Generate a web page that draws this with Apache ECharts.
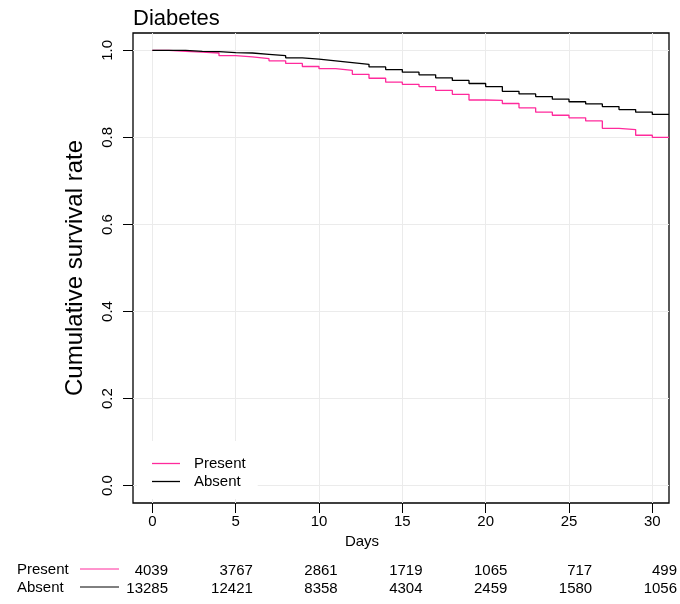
<!DOCTYPE html>
<html>
<head>
<meta charset="utf-8">
<script src="https://cdn.jsdelivr.net/npm/echarts@6/dist/echarts.min.js"></script>
<style>
    html, body {margin: 0; padding: 0; background: #fff;}
    #main {width: 680px; height: 604px;}
</style>
</head>
<body>
<div id="main"></div>
<script>
// KM step values read per day (value after the drop on that day)
const groups = ['Present', 'Absent'];
const days = [0, 1, 2, 3, 4, 5, 6, 7, 8, 9, 10, 11, 12, 13, 14, 15, 16, 17, 18, 19, 20, 21, 22, 23, 24, 25, 26, 27, 28, 29, 30, 31];
const presentSurv = [1.0, 0.998, 0.996, 0.994, 0.988, 0.985, 0.981, 0.976, 0.970, 0.963, 0.958, 0.954, 0.945, 0.936, 0.927, 0.922,
    0.917, 0.908, 0.899, 0.886, 0.885, 0.878, 0.868, 0.858, 0.851, 0.845, 0.838, 0.821, 0.818, 0.805, 0.800, 0.800];
const absentSurv = [1.0, 1.0, 0.998, 0.997, 0.995, 0.994, 0.991, 0.988, 0.983, 0.980, 0.976, 0.972, 0.968, 0.962, 0.956, 0.950,
    0.944, 0.937, 0.931, 0.924, 0.917, 0.906, 0.900, 0.894, 0.888, 0.882, 0.877, 0.871, 0.864, 0.858, 0.853, 0.853];

const dayTicks = [0, 5, 10, 15, 20, 25, 30];
const rateTicks = [0, 0.2, 0.4, 0.6, 0.8, 1.0];
const presentRisk = [4039, 3767, 2861, 1719, 1065, 717, 499];
const absentRisk = [13285, 12421, 8358, 4304, 2459, 1580, 1056];

const colors = ['#ff2a9c', '#000000'];
const font = "'Liberation Sans', Arial, sans-serif";

let chart = echarts.init(document.getElementById('main'));

let riskAxis = (risk, offset) => ({
    type: 'value',
    gridIndex: 1,
    min: 0,
    max: 30,
    interval: 5,
    position: 'bottom',
    offset: offset,
    axisLine: {show: false, onZero: false},
    axisTick: {show: false},
    splitLine: {show: false},
    axisLabel: {
        align: 'right',
        margin: 7,
        fontSize: 15,
        fontFamily: font,
        color: '#000',
        showMinLabel: true,
        showMaxLabel: true,
        formatter: v => risk[dayTicks.indexOf(v)]
    }
});

let graphic = [];
groups.forEach((g, i) => {
    let y = 569 + i * 18;
    graphic.push({
        type: 'text', left: 17, top: y - 7,
        style: {text: g, fontSize: 15, fontFamily: font, fill: '#000'}
    });
    graphic.push({
        type: 'line',
        shape: {x1: 80, y1: y, x2: 119, y2: y},
        style: {stroke: colors[i], lineWidth: 1}
    });
});

let option = {
    animation: false,
    backgroundColor: '#fff',
    title: {
        text: 'Diabetes',
        left: 133,
        top: 8,
        padding: 0,
        textStyle: {fontSize: 22, fontWeight: 'normal', fontFamily: font, color: '#000'}
    },
    legend: {
        data: groups,
        orient: 'vertical',
        left: 137,
        top: 441,
        padding: [15, 12, 10, 15],
        icon: 'rect',
        itemGap: 3,
        itemWidth: 28,
        itemHeight: 1.3,
        backgroundColor: '#fff',
        textStyle: {fontSize: 15, fontFamily: font, color: '#000', padding: [0, 0, 0, 9]}
    },
    grid: [
        {left: 133, right: 11, top: 33, height: 470, show: true, borderColor: '#000', borderWidth: 1.3},
        {left: 168, right: 2, top: 555, height: 1}
    ],
    xAxis: [
        {
            type: 'value',
            gridIndex: 0,
            min: -1.16,
            max: 31,
            name: 'Days',
            nameLocation: 'middle',
            nameGap: 30,
            nameTextStyle: {fontSize: 15, fontFamily: font, color: '#000', padding: [0, 78, 0, 0]},
            axisLine: {show: false, onZero: false},
            axisTick: {show: true, length: 10, lineStyle: {color: '#000'}, customValues: dayTicks},
            axisLabel: {margin: 11, fontSize: 15, fontFamily: font, color: '#000', customValues: dayTicks},
            splitLine: {show: true, lineStyle: {color: '#ebebeb', width: 1}}
        },
        riskAxis(presentRisk, 0),
        riskAxis(absentRisk, 18)
    ],
    yAxis: [
        {
            type: 'value',
            gridIndex: 0,
            min: -0.04,
            max: 1.04,
            name: 'Cumulative survival rate',
            nameLocation: 'middle',
            nameGap: 46,
            nameTextStyle: {fontSize: 24, fontFamily: font, color: '#000'},
            axisLine: {show: false, onZero: false},
            axisTick: {show: true, length: 10, lineStyle: {color: '#000'}, customValues: rateTicks},
            axisLabel: {
                rotate: 90, margin: 18, fontSize: 15, fontFamily: font, color: '#000',
                customValues: rateTicks, formatter: v => v.toFixed(1)
            },
            splitLine: {show: true, lineStyle: {color: '#ebebeb', width: 1}}
        },
        {type: 'value', gridIndex: 1, show: false, min: 0, max: 1}
    ],
    graphic: graphic,
    series: [
        {
            name: groups[0],
            type: 'line',
            step: 'end',
            symbol: 'none',
            color: colors[0],
            lineStyle: {width: 1.3, color: colors[0]},
            data: days.map((d, i) => [d, presentSurv[i]])
        },
        {
            name: groups[1],
            type: 'line',
            step: 'end',
            symbol: 'none',
            color: colors[1],
            lineStyle: {width: 1.3, color: colors[1]},
            data: days.map((d, i) => [d, absentSurv[i]])
        }
    ]
};

chart.setOption(option);
</script>
</body>
</html>
